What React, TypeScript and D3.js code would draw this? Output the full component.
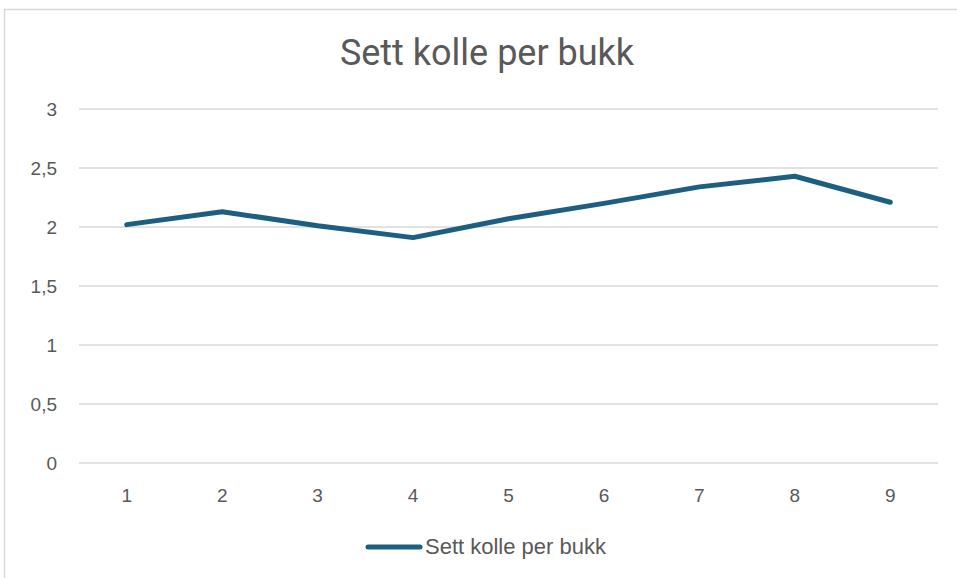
import React, { useEffect, useRef } from 'react';
import * as d3 from 'd3';

const categories = ['1', '2', '3', '4', '5', '6', '7', '8', '9'];
const values = [2.02, 2.13, 2.01, 1.91, 2.07, 2.2, 2.34, 2.43, 2.21];
const yTicks = [0, 0.5, 1, 1.5, 2, 2.5, 3];
const title = 'Sett kolle per bukk';
const seriesName = 'Sett kolle per bukk';

const W = 957;
const H = 578;
const TITLE_FONT = "'Roboto', sans-serif";
const FONT = "'Liberation Sans', sans-serif";
const TEXT = '#595959';
const LINE = '#1c5f81';

const App = () => {
    const ref = useRef<SVGSVGElement | null>(null);

    useEffect(() => {
        if (!ref.current) return;
        const svg = d3.select(ref.current);
        svg.selectAll('*').remove();

        const margin = { top: 109, right: 19, bottom: 115, left: 79 };
        const width = W - margin.left - margin.right;
        const height = H - margin.top - margin.bottom;

        // chart frame
        svg.append('rect')
            .attr('x', 4.5).attr('y', 9.5)
            .attr('width', W + 10).attr('height', H + 10)
            .attr('fill', '#fff')
            .attr('stroke', '#d9d9d9')
            .attr('stroke-width', 1.5);

        svg.append('text')
            .attr('x', 487).attr('y', 65)
            .attr('text-anchor', 'middle')
            .attr('font-family', TITLE_FONT)
            .attr('font-size', 36)
            .attr('fill', TEXT)
            .text(title);

        const x = d3.scaleBand<string>().domain(categories).range([0, width]);
        const y = d3.scaleLinear().domain([0, 3]).range([height, 0]);

        const g = svg.append('g').attr('transform', `translate(${margin.left},${margin.top})`);

        g.selectAll('line.grid')
            .data(yTicks)
            .join('line')
            .attr('class', 'grid')
            .attr('x1', 0).attr('x2', width)
            .attr('y1', d => y(d)).attr('y2', d => y(d))
            .attr('stroke', '#d9d9d9')
            .attr('stroke-width', 1.5);

        g.selectAll('text.ylab')
            .data(yTicks)
            .join('text')
            .attr('class', 'ylab')
            .attr('x', -22)
            .attr('y', d => y(d))
            .attr('dy', '0.35em')
            .attr('text-anchor', 'end')
            .attr('font-family', FONT)
            .attr('font-size', 19)
            .attr('fill', TEXT)
            .text(d => String(d).replace('.', ','));

        g.selectAll('text.xlab')
            .data(categories)
            .join('text')
            .attr('class', 'xlab')
            .attr('x', d => (x(d) ?? 0) + x.bandwidth() / 2)
            .attr('y', height + 39)
            .attr('text-anchor', 'middle')
            .attr('font-family', FONT)
            .attr('font-size', 19)
            .attr('fill', TEXT)
            .text(d => d);

        const line = d3.line<number>()
            .x((_, i) => (x(categories[i]) ?? 0) + x.bandwidth() / 2)
            .y(d => y(d));

        g.append('path')
            .datum(values)
            .attr('fill', 'none')
            .attr('stroke', LINE)
            .attr('stroke-width', 5)
            .attr('stroke-linecap', 'round')
            .attr('stroke-linejoin', 'round')
            .attr('d', line);

        // legend
        svg.append('line')
            .attr('x1', 368).attr('x2', 420)
            .attr('y1', 547).attr('y2', 547)
            .attr('stroke', LINE)
            .attr('stroke-width', 5)
            .attr('stroke-linecap', 'round');

        svg.append('text')
            .attr('x', 425).attr('y', 554)
            .attr('font-family', FONT)
            .attr('font-size', 22)
            .attr('fill', TEXT)
            .text(seriesName);
    }, []);

    return (
        <svg
            ref={ref}
            width={W}
            height={H}
            style={{ position: 'absolute', left: 0, top: 0, display: 'block' }}
        />
    );
};

export default App;
